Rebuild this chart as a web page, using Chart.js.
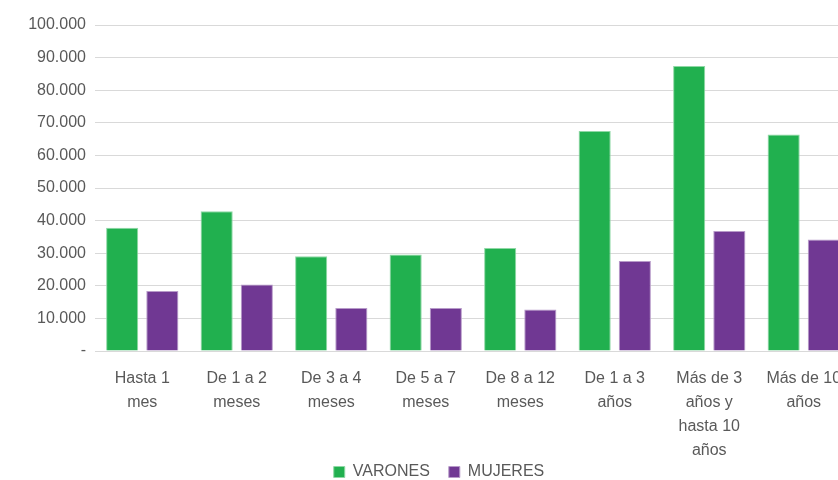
<!DOCTYPE html>
<html>
<head>
<meta charset="utf-8">
<script src="https://cdn.jsdelivr.net/npm/chart.js@4/dist/chart.umd.min.js"></script>
<style>
  html, body { margin: 0; padding: 0; background: #fff; }
  #wrap { width: 838px; height: 480px; overflow: hidden; position: relative; }
  #box { width: 878px; height: 490px; position: absolute; left: 0; top: 0; }
</style>
</head>
<body>
<div id="wrap"><div id="box"><canvas id="chart"></canvas></div></div>
<script>
// categories (multi-line labels as in the original)
const categories = [
  ['Hasta 1', 'mes'],
  ['De 1 a 2', 'meses'],
  ['De 3 a 4', 'meses'],
  ['De 5 a 7', 'meses'],
  ['De 8 a 12', 'meses'],
  ['De 1 a 3', 'años'],
  ['Más de 3', 'años y', 'hasta 10', 'años'],
  ['Más de 10', 'años']
];
const varones = [37800, 42900, 29100, 29600, 31600, 67500, 87400, 66400];
const mujeres = [18400, 20400, 13200, 13200, 12700, 27600, 36800, 34200];
const yTicks = [0, 10000, 20000, 30000, 40000, 50000, 60000, 70000, 80000, 90000, 100000];

const grey = '#595959';
const font = { family: '"Liberation Sans", Arial, sans-serif', size: 16 };

// 100000 -> "100.000", 0 -> "-"
function fmt(v) {
  if (v === 0) return '-';
  return v.toString().replace(/\B(?=(\d{3})+(?!\d))/g, '.');
}

const ctx = document.getElementById('chart').getContext('2d');
const chart = new Chart(ctx, {
  type: 'bar',
  data: {
    labels: categories,
    datasets: [
      {
        label: 'VARONES',
        data: varones,
        backgroundColor: '#21B04F',
        borderColor: '#8fd8a5',
        borderWidth: 1
      },
      {
        label: 'MUJERES',
        data: mujeres,
        backgroundColor: '#703893',
        borderColor: '#b79ac9',
        borderWidth: 1
      }
    ]
  },
  options: {
    responsive: true,
    maintainAspectRatio: false,
    animation: false,
    layout: { padding: { left: 0, right: 0, top: 25, bottom: 0 } },
    datasets: {
      bar: { categoryPercentage: 0.85, barPercentage: 0.8 }
    },
    plugins: {
      legend: {
        position: 'bottom',
        labels: {
          color: grey,
          font: font,
          boxWidth: 11,
          boxHeight: 11,
          padding: 19
        }
      },
      tooltip: { enabled: false }
    },
    scales: {
      x: {
        afterFit: (axis) => {
          axis.height = 94;
          // let the 4-line label run past the axis box instead of being clipped
          axis._computeLabelArea = () => undefined;
        },
        grid: { display: false, drawTicks: false },
        border: { color: '#d9d9d9', width: 1 },
        ticks: {
          color: grey,
          font: { family: font.family, size: 16, lineHeight: 1.5 },
          autoSkip: false,
          maxRotation: 0,
          padding: 16
        }
      },
      y: {
        min: 0,
        max: 100000,
        afterFit: (axis) => { axis.width = 95; },
        afterBuildTicks: (axis) => { axis.ticks = yTicks.map(v => ({ value: v })); },
        grid: { color: '#d9d9d9', lineWidth: 1, drawTicks: false },
        border: { display: false },
        ticks: {
          color: grey,
          font: font,
          padding: 9,
          callback: (v) => fmt(v)
        }
      },
      // empty spacer on the right so the legend stays centred on the full width
      spacer: {
        type: 'linear',
        position: 'right',
        afterFit: (axis) => { axis.width = 27; },
        grid: { display: false, drawTicks: false },
        border: { display: false },
        ticks: { display: false }
      }
    }
  }
});
</script>
</body>
</html>
